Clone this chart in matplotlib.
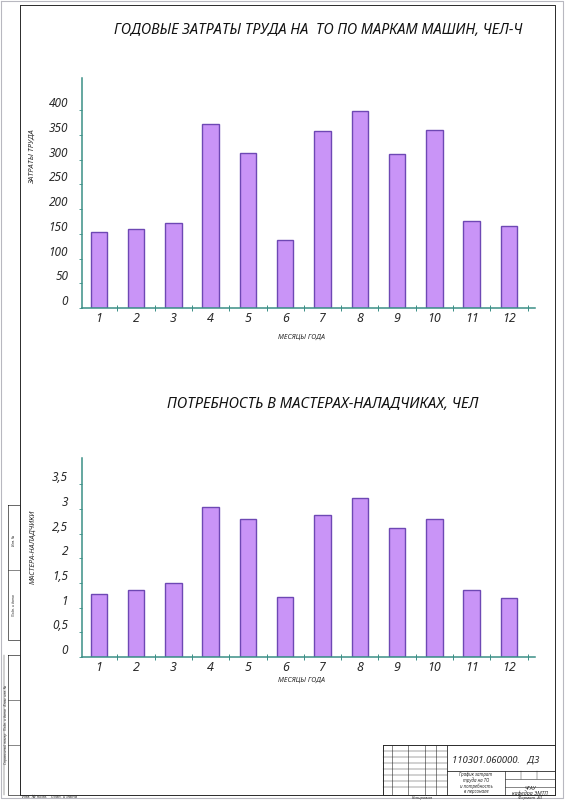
import matplotlib.pyplot as plt
import numpy as np

months = ['1', '2', '3', '4', '5', '6', '7', '8', '9', '10', '11', '12']
labour = [153, 159, 171, 372, 314, 137, 357, 399, 312, 360, 176, 166]
masters = [1.27, 1.36, 1.49, 3.03, 2.79, 1.22, 2.87, 3.21, 2.61, 2.79, 1.35, 1.20]

labour_ticks = [0, 50, 100, 150, 200, 250, 300, 350, 400]
labour_tick_labels = ['0', '50', '100', '150', '200', '250', '300', '350', '400']
masters_ticks = [0, 0.5, 1, 1.5, 2, 2.5, 3, 3.5]
masters_tick_labels = ['0', '0,5', '1', '1,5', '2', '2,5', '3', '3,5']

title_top = 'ГОДОВЫЕ ЗАТРАТЫ ТРУДА НА  ТО ПО МАРКАМ МАШИН, ЧЕЛ-Ч'
title_bottom = 'ПОТРЕБНОСТЬ В МАСТЕРАХ-НАЛАДЧИКАХ, ЧЕЛ'

plt.rcParams['font.family'] = ['Noto Sans', 'DejaVu Sans']
plt.rcParams['font.style'] = 'italic'

W, H = 565, 800
bar_face = '#c994f7'
bar_edge = '#6e48b4'
axis_col = '#3a8f86'
ink = '#2a2a2a'

fig = plt.figure(figsize=(W / 100, H / 100), dpi=100)
renderer = fig.canvas.get_renderer()


def px_axes(left, top, right, bottom):
    # axes placed in pixel coordinates of the sheet
    return fig.add_axes([left / W, 1 - bottom / H, (right - left) / W, (bottom - top) / H])


def fit_width(txt, target):
    # shrink/grow a text so its long side spans roughly target pixels
    bb = txt.get_window_extent(renderer)
    span = max(bb.width, bb.height)
    txt.set_fontsize(txt.get_fontsize() * target / span)


# sheet frame drawn in pixel space
frame = fig.add_axes([0, 0, 1, 1], zorder=-1)
frame.set_xlim(0, W)
frame.set_ylim(H, 0)
frame.axis('off')


def box(x0, y0, x1, y1, lw=0.6, color=ink):
    frame.plot([x0, x1, x1, x0, x0], [y0, y0, y1, y1, y0], color=color, lw=lw)


def hline(y, x0, x1, lw=0.4):
    frame.plot([x0, x1], [y, y], color=ink, lw=lw)


def vline(x, y0, y1, lw=0.4):
    frame.plot([x, x], [y0, y1], color=ink, lw=lw)


box(1, 1, 563, 798, lw=0.8, color='#b8b8c0')
box(20, 5, 555, 795, lw=0.7)

# title block
box(383, 745, 555, 795, lw=0.7)
vline(447, 745, 795, lw=0.6)
hline(771, 447, 555, lw=0.6)
vline(505, 771, 795, lw=0.5)
hline(779, 505, 555)
hline(787, 505, 555)
for x in (392, 408, 425, 436):
    vline(x, 745, 795)
for y in (751, 757, 763, 769, 775, 781, 787):
    hline(y, 383, 447, lw=0.3)
for x in (521, 537):
    vline(x, 771, 779, lw=0.3)
stamp = frame.text(496, 760, '110301.060000.   Д3', fontsize=8, ha='center', va='center', color=ink)
fit_width(stamp, 88)
frame.text(476, 783, 'График затрат\nтруда на ТО\nи потребность\nв персонале', fontsize=3.2,
           ha='center', va='center', color=ink, linespacing=1.1)
frame.text(530, 791, 'ЧГАУ\nкафедра ЭМТП', fontsize=3.8, ha='center', va='center', color=ink,
           linespacing=1.0)
frame.text(422, 797.5, 'Копировал', fontsize=3, ha='center', va='center', color=ink)
frame.text(530, 797.5, 'Формат  А3', fontsize=3, ha='center', va='center', color=ink)
frame.text(22, 797.5, 'Инв. № подл.   Подп. и дата', fontsize=3, ha='left', va='center', color=ink)

# left margin strips
box(8, 505, 20, 640, lw=0.5)
hline(570, 8, 20)
box(8, 655, 20, 795, lw=0.5)
hline(700, 8, 20)
hline(745, 8, 20)
vline(4, 655, 795, lw=0.3)
frame.text(6, 725, 'Справочный номер   Подп. и дата   Взам. инв. №', fontsize=2.5,
           rotation=90, ha='center', va='center', color=ink)
frame.text(14, 605, 'Подп. и дата', fontsize=2.5, rotation=90, ha='center', va='center', color=ink)
frame.text(14, 540, 'Инв. №', fontsize=2.5, rotation=90, ha='center', va='center', color=ink)


def draw_chart(ax, values, ticks, tick_labels, ymax):
    x = np.arange(1, len(months) + 1)
    ax.bar(x, values, width=0.44, color=bar_face, edgecolor=bar_edge, linewidth=1.0, zorder=2)
    ax.set_xlim(0.55, 12.7)
    ax.set_ylim(0, ymax)
    for side in ('top', 'right'):
        ax.spines[side].set_visible(False)
    for side in ('left', 'bottom'):
        ax.spines[side].set_color(axis_col)
        ax.spines[side].set_linewidth(1.1)
    ax.spines['bottom'].set_zorder(3)
    ax.set_xticks(x)
    ax.set_xticklabels(months, fontsize=9, color=ink)
    ax.set_xticks(x + 0.5, minor=True)
    ax.tick_params(axis='x', which='major', length=0, pad=3)
    ax.tick_params(axis='x', which='minor', direction='inout', length=5, width=0.7, color=axis_col)
    ax.set_yticks(ticks)
    ax.set_yticklabels(tick_labels, fontsize=8.5, color=ink)
    ax.tick_params(axis='y', direction='out', length=2, width=0.6, color=axis_col, pad=8)
    for lab in ax.get_yticklabels():
        lab.set_va('bottom')
    ax.patch.set_alpha(0)


ax1 = px_axes(82, 78, 535, 308)
draw_chart(ax1, labour, labour_ticks, labour_tick_labels, 465)

ax2 = px_axes(82, 458, 535, 657)
draw_chart(ax2, masters, masters_ticks, masters_tick_labels, 4.03)

t1 = fig.text(318 / W, 1 - 30 / H, title_top, fontsize=12, ha='center', va='center', color='#111111')
fit_width(t1, 410)
t2 = fig.text(323 / W, 1 - 405 / H, title_bottom, fontsize=12, ha='center', va='center', color='#111111')
fit_width(t2, 312)

yl1 = fig.text(32 / W, 1 - 157 / H, 'ЗАТРАТЫ ТРУДА', fontsize=6.5, rotation=90,
               ha='center', va='center', color=ink)
fit_width(yl1, 55)
yl2 = fig.text(33 / W, 1 - 547 / H, 'МАСТЕРА-НАЛАДЧИКИ', fontsize=6.5, rotation=90,
               ha='center', va='center', color=ink)
fit_width(yl2, 75)
for ypix in (337, 680):
    xl = fig.text(302 / W, 1 - ypix / H, 'МЕСЯЦЫ ГОДА', fontsize=6.5, ha='center', va='center', color=ink)
    fit_width(xl, 47)

fig.savefig('out.png', dpi=100)
